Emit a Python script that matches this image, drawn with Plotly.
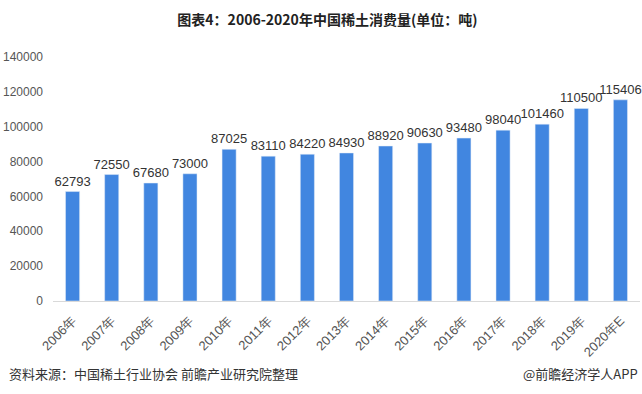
import plotly.graph_objects as go

years = ["2006年", "2007年", "2008年", "2009年", "2010年", "2011年", "2012年", "2013年",
         "2014年", "2015年", "2016年", "2017年", "2018年", "2019年", "2020年E"]
consumption = [62793, 72550, 67680, 73000, 87025, 83110, 84220, 84930,
               88920, 90630, 93480, 98040, 101460, 110500, 115406]
y_ticks = [0, 20000, 40000, 60000, 80000, 100000, 120000, 140000]

font_family = "Noto Sans CJK SC, Arial, sans-serif"
num_font = "Arial, Liberation Sans, sans-serif"

fig = go.Figure(go.Bar(
    x=years, y=consumption,
    marker=dict(color="#4186E0"),
    text=[str(v) for v in consumption],
    textposition="outside",
    constraintext="none",
    textfont=dict(size=13, color="#333333", family=num_font),
    cliponaxis=False,
))

fig.update_layout(
    width=642, height=394,
    margin=dict(l=53, r=2, t=57, b=93, autoexpand=False),
    plot_bgcolor="white", paper_bgcolor="white",
    bargap=0.64,
    showlegend=False,
    title=dict(text="<b>图表4：2006-2020年中国稀土消费量(单位：吨)</b>",
               x=0.51, xanchor="center", y=0.95, yanchor="middle",
               font=dict(size=14, color="#222222", family=font_family)),
    xaxis=dict(tickangle=-45, showline=True, linecolor="#D9D9D9", linewidth=1,
               ticks="", automargin=False, ticklabelstandoff=6,
               tickfont=dict(size=13, color="#555555", family=num_font)),
    yaxis=dict(range=[0, 140000], tickvals=y_ticks, ticktext=[str(v) for v in y_ticks],
               showgrid=False, zeroline=False, ticks="", ticklen=0, automargin=False,
               ticklabelstandoff=9,
               tickfont=dict(size=12, color="#555555", family=num_font)),
    annotations=[
        dict(text="资料来源：中国稀土行业协会 前瞻产业研究院整理", xref="paper", yref="paper",
             x=-46/587, y=-(373-301)/244, xanchor="left", yanchor="middle", showarrow=False,
             font=dict(size=13, color="#333333", family=font_family)),
        dict(text="@前瞻经济学人APP", xref="paper", yref="paper",
             x=1.0, y=-(373-301)/244, xanchor="right", yanchor="middle", showarrow=False,
             font=dict(size=13, color="#333333", family=font_family)),
    ],
)

fig.write_html("out.html", config={"displayModeBar": False},
               post_script="document.body.style.margin='0';document.body.style.overflow='hidden';")
